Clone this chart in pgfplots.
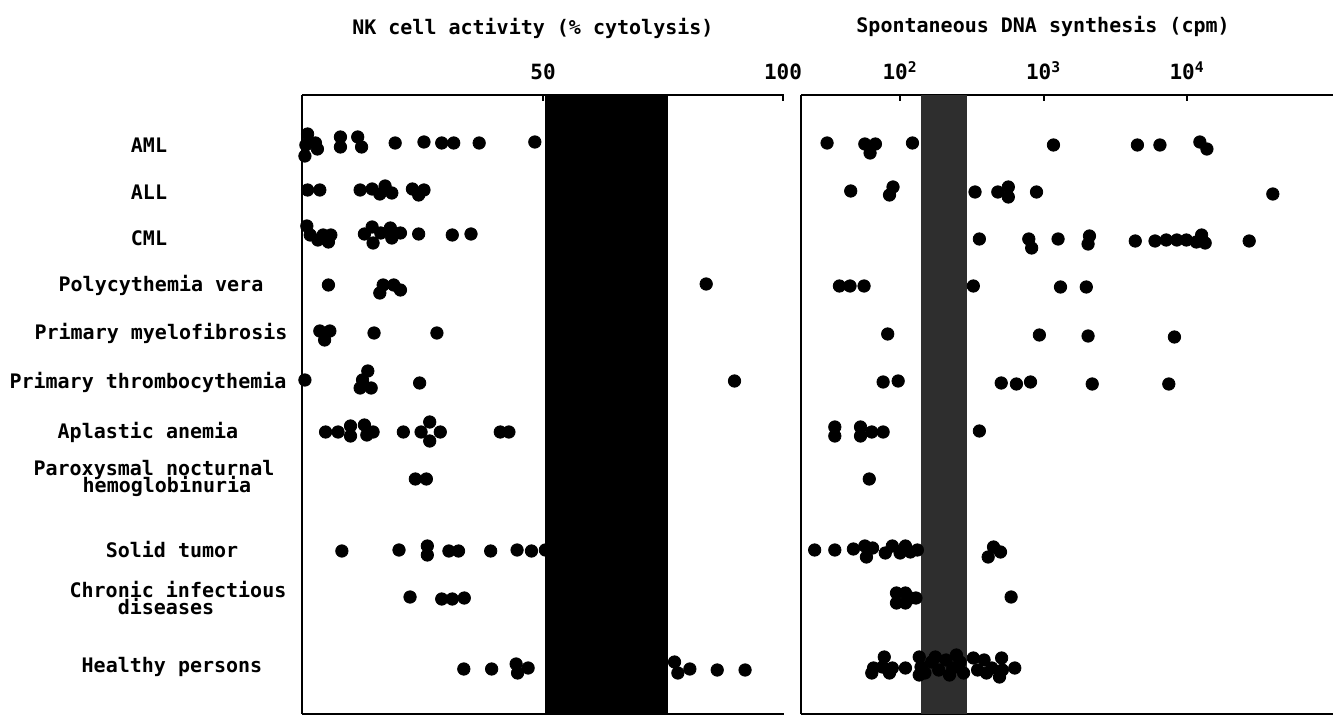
\documentclass[border=0pt]{standalone}
\usepackage{fontspec}
\setmainfont{DejaVu Sans Mono}
\usepackage{pgfplots}
\pgfplotsset{compat=1.18}

% y values are the row heights of the original figure (top = 95, bottom = 714)
\pgfplotsset{
  panel/.style={
    scale only axis, height=309.5pt,
    y dir=reverse, ymin=95, ymax=714,
    axis x line=box, axis y line=left,
    axis line style={-, line width=1.3pt},
    tick align=inside, major tick length=3pt,
    tick style={black, line width=1pt},
    xtick pos=right, xticklabel pos=right,
    xticklabel style={anchor=base, inner sep=0pt, yshift=7.5pt},
    ytick={145,192,238,285,333,382,432,478,550,598,667},
    ytick style={draw=none},
    clip=false,
  },
  dots/.style={only marks, mark=*, mark size=3.1pt, black},
}

\begin{document}
\begin{tikzpicture}
\lineskiplimit=-20pt
\useasboundingbox (0,0) rectangle (666.5pt,358.5pt);

% ---- NK cell activity ----
\begin{axis}[panel,
  at={(151pt,1.5pt)}, anchor=south west, width=241pt,
  xmin=-0.21, xmax=100.21,
  xtick={50,100}, xticklabels={50,100},
  xticklabel style={font=\bfseries\fontsize{10.5}{12}\selectfont},
  yticklabels={
    {\hspace*{3pt}AML},
    {\hspace*{3pt}ALL},
    {\hspace*{3pt}CML},
    {\hspace*{15pt}Polycythemia vera},
    {\hspace*{15pt}Primary myelofibrosis},
    {\hspace*{2pt}Primary thrombocythemia},
    {\hspace*{2pt}Aplastic anemia},
    {\hspace*{8pt}Paroxysmal nocturnal\\\hspace*{21pt}hemoglobinuria},
    {\hspace*{26pt}Solid tumor},
    {\hspace*{32pt}Chronic infectious\\\hspace*{20pt}diseases},
    {\hspace*{26pt}Healthy persons}},
  yticklabel style={font=\bfseries\fontsize{10}{8.5}\selectfont,
    align=center, anchor=center, inner sep=0pt, xshift=-78pt},
]
\addplot[fill=black, draw=none] coordinates {(50.4,95) (76,95) (76,714) (50.4,714)} -- cycle;
% AML
\addplot[dots] coordinates {(0.95,134) (2.6,143) (0.6,145) (3.0,149) (0.4,156)
  (7.8,137) (7.8,147) (11.4,137) (12.2,147) (19.2,143) (25.2,142)
  (28.9,143) (31.4,143) (36.7,143) (48.3,142)};
% ALL
\addplot[dots] coordinates {(0.95,190) (3.5,190) (11.9,190) (14.4,189) (16.0,194)
  (17.1,186) (18.5,193) (22.8,189) (24.1,195) (25.2,190)};
% CML
\addplot[dots] coordinates {(0.8,226) (1.5,235) (3.1,240) (4.2,235) (5.3,242) (5.8,235)
  (12.8,234) (14.4,227) (14.6,243) (16.2,233) (18.2,228) (18.5,238) (20.3,233)
  (24.1,234) (31.1,235) (35.0,234)};
% Polycythemia vera
\addplot[dots] coordinates {(5.3,285) (16.0,293) (16.7,285) (18.9,285) (20.3,290) (84.0,284)};
% Primary myelofibrosis
\addplot[dots] coordinates {(3.5,331) (5.6,331) (4.5,340) (14.8,333) (27.9,333)};
% Primary thrombocythemia
\addplot[dots] coordinates {(0.4,380) (13.5,371) (12.4,380) (11.9,388) (14.2,388) (24.3,383) (89.9,381)};
% Aplastic anemia
\addplot[dots] coordinates {(4.7,432) (7.3,432) (9.9,426) (9.9,436) (12.8,425) (13.3,435)
  (14.6,432) (20.9,432) (24.6,432) (26.4,422) (26.4,441) (28.6,432) (41.1,432) (42.9,432)};
% PNH
\addplot[dots] coordinates {(23.4,479) (25.7,479)};
% Solid tumor
\addplot[dots] coordinates {(8.1,551) (20.0,550) (25.9,546) (25.9,555) (30.4,551) (32.4,551)
  (39.1,551) (44.6,550) (47.6,551) (50.5,550)};
% Chronic infectious diseases
\addplot[dots] coordinates {(22.3,597) (28.9,599) (31.1,599) (33.6,598)};
% Healthy persons
\addplot[dots] coordinates {(33.5,669) (39.3,669) (44.4,664) (44.7,673) (46.9,668)
  (77.4,662) (78.1,673) (80.6,669) (86.3,670) (92.1,670)};
\node[font=\bfseries\fontsize{10}{12}\selectfont] at (axis description cs:0.479,1.108)
  {NK cell activity (\% cytolysis)};
\end{axis}

% ---- spontaneous DNA synthesis ----
\begin{axis}[panel,
  at={(400.5pt,1.5pt)}, anchor=south west, width=266pt,
  xmode=log, xmin=20.4, xmax=1.04e5, xminorticks=false,
  xtick={100,1000,10000},
  xticklabels={10\textsuperscript{2},10\textsuperscript{3},10\textsuperscript{4}},
  xticklabel style={font=\bfseries\fontsize{10.5}{12}\selectfont},
  yticklabels={},
]
\addplot[fill=black!82, draw=none] coordinates {(140,95) (295,95) (295,714) (140,714)} -- cycle;
% AML
\addplot[dots] coordinates {(31,143) (56.8,144) (67.3,144) (61.8,153) (122,143)
  (1172,145) (4508,145) (6471,145) (12280,142) (13750,149)};
% ALL
\addplot[dots] coordinates {(45.3,191) (89.3,187) (84.4,195) (333,192) (480,192)
  (568,187) (568,197) (893,192) (39600,194)};
% CML
\addplot[dots] coordinates {(357,239) (789,239) (826,248) (1262,239) (2089,236) (2042,244)
  (4355,241) (5980,241) (7161,240) (8492,240) (9900,240) (11600,242) (12630,235)
  (13370,243) (27100,241)};
% Polycythemia vera
\addplot[dots] coordinates {(37.8,286) (44.8,286) (56.1,286) (324,286) (1312,287) (1985,287)};
% Primary myelofibrosis
\addplot[dots] coordinates {(82,334) (935,335) (2042,336) (8166,337)};
% Primary thrombocythemia
\addplot[dots] coordinates {(76.2,382) (97,381) (507,383) (647,384) (811,382) (2183,384) (7460,384)};
% Aplastic anemia
\addplot[dots] coordinates {(35.1,427) (35.1,436) (53,427) (53,436) (63.5,432) (76.2,432) (357,431)};
% PNH
\addplot[dots] coordinates {(61,479)};
% Solid tumor
\addplot[dots] coordinates {(25.4,550) (35.1,550) (47.3,549) (56.8,546) (58.3,557) (64.3,548)
  (78.9,553) (88.3,546) (100,553) (109,546) (118,552) (132,550) (411,557) (448,547) (501,552)};
% Chronic infectious diseases
\addplot[dots] coordinates {(94.4,593) (94.4,603) (109,593) (109,603) (118,598) (129,598) (594,597)};
% Healthy persons
\addplot[dots] coordinates {(65.3,668) (63.5,673) (77.6,657) (75.4,667) (84.4,673) (88.3,668) (109,668)
  (136,657) (136,675) (149,673) (166,662) (186,670) (209,660) (233,668) (262,662) (277,673)
  (140,667) (176,657) (221,675) (247,655)
  (324,658) (347,670) (385,660) (400,673) (436,668) (510,658) (516,670) (493,677) (630,668)};
\node[font=\bfseries\fontsize{10}{12}\selectfont] at (axis description cs:0.455,1.111)
  {Spontaneous DNA synthesis (cpm)};
\end{axis}
\end{tikzpicture}
\end{document}
